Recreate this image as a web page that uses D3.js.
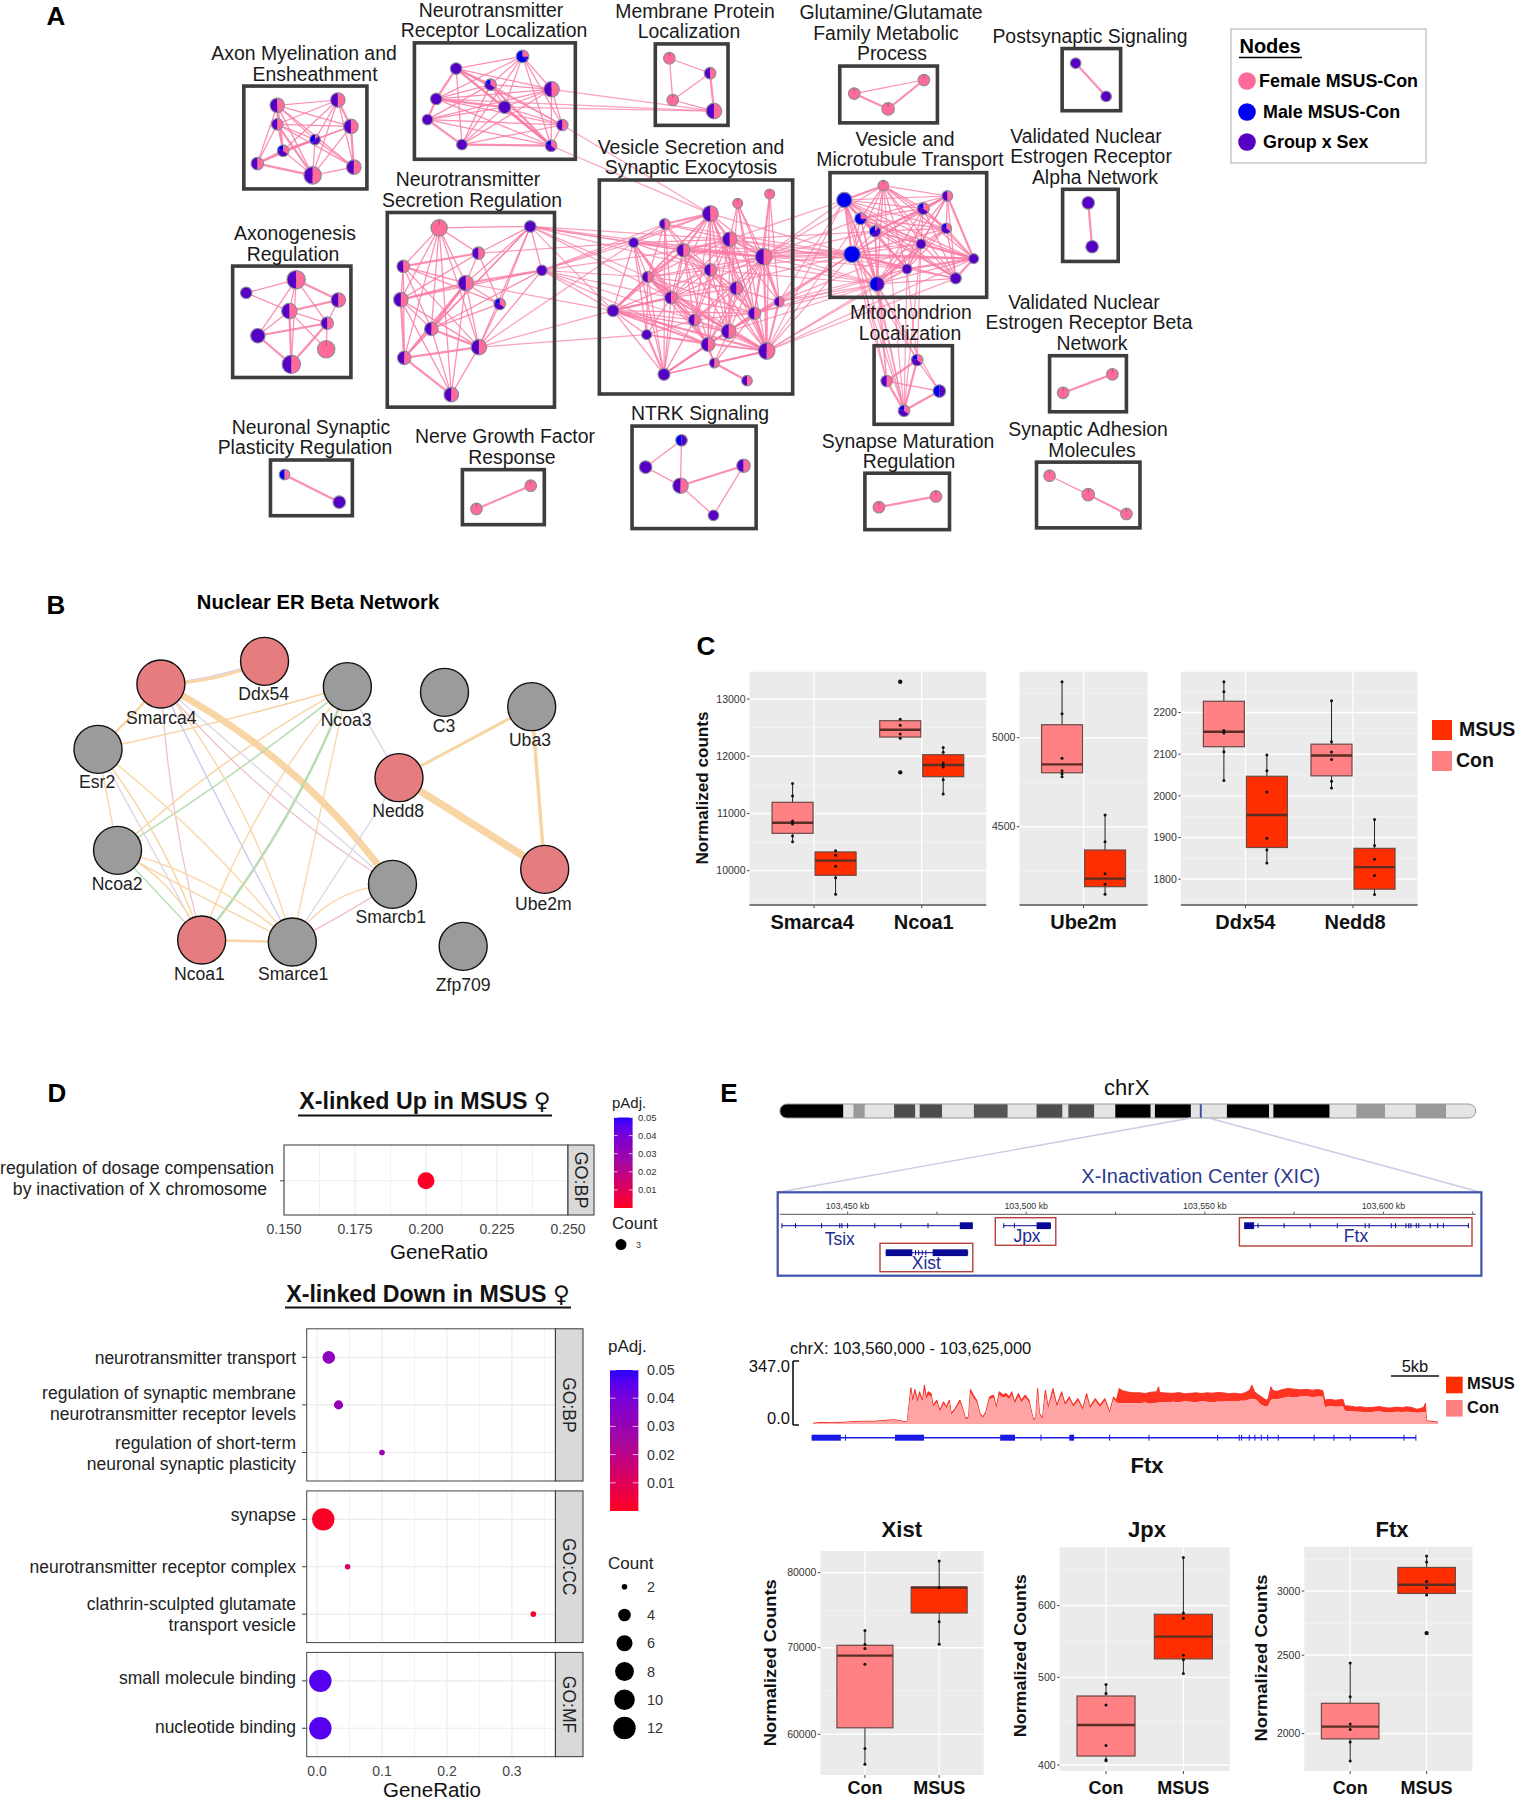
<!DOCTYPE html>
<html><head><meta charset="utf-8">
<script src="https://cdn.jsdelivr.net/npm/d3@7"></script>
<style>html,body{margin:0;background:#fff}svg{display:block}text{font-family:"Liberation Sans",Arial,sans-serif}</style>
</head><body><div id="c"></div>
<script>
// ---------- Panel A data: network embeddings as [x, y, radius, kind] ----------
const kindShares={h:[.5,.5,0],p:[1,0,0],u:[0,1,0],b:[0,0,1],v:[0,.5,.5],w:[.5,0,.5],q:[.25,.1,.65],t:[.12,.5,.38],m:[.35,.45,.2]};
const axonNodes=[[572,295,15,'h'],[697,280,15,'h'],[572,348,12,'h'],[724,354,15,'h'],[650,391,11,'t'],[584,422,12,'m'],[531,458,13,'h'],[645,491,18,'h'],[730,468,15,'h']];
const axonEdges="0:1,2,3,4,5*,6,7,8;1:2,3*,4,5,7,8;2:3,4,5,6,7*,8;3:4,5,7,8*;4:5*,6,7,8;5:6*,7;6:7*;7:8";
const ntrNodes=[[1078,158,13,'q'],[941,192,12,'u'],[1012,237,12,'m'],[1138,250,16,'h'],[900,277,12,'u'],[1041,300,13,'u'],[882,335,11,'u'],[1160,350,12,'h'],[953,405,11,'u'],[1137,408,12,'m']];
const ntrEdges="0:1,2,3,4,5,7,8,9;1:2*,3,4*,5,7,8,9*;2:3,4,5,6,7,8,9*;3:4,5,6,7,8,9;4:5*,6*,7,9;5:6,7,8,9*;6:7,8*,9;7:8,9;8:9*";
const mpNodes=[[1381,163,12,'p'],[1465,205,12,'h'],[1388,280,12,'p'],[1473,311,16,'h']];
const mpEdges="0:1,2;1:2,3*;2:3";
const axgNodes=[[611,783,19,'h'],[508,820,12,'u'],[698,840,15,'h'],[597,871,16,'h'],[675,905,13,'h'],[532,940,15,'u'],[673,978,18,'p'],[601,1020,19,'h']];
const axgEdges="0:1,2*,3,4,5,7;1:3;2:3*,4;3:4,5,6,7*;4:5*,6,7*;5:7*";
const nsrNodes=[[906,638,17,'p'],[1094,634,12,'u'],[987,709,13,'h'],[832,746,13,'h'],[1118,757,11,'u'],[961,793,16,'h'],[827,839,15,'h'],[1031,851,12,'m'],[890,921,14,'h'],[988,972,16,'h'],[834,1002,14,'h'],[931,1105,15,'h']];
const nsrEdges="0:1,2,3,5,6,8,9,10,11;1:2,4,5,7,8,9,10;2:3*,5,6,7;3:5,6,7,8,9,10;4:5*,6,8,9;5:6*,7,8*,9,10*,11;6:8,9,10*,11;7:8,9;8:9*,10,11;9:10*,11;10:11*";
const vsNodes=[[539,72,15,'p'],[443,100,15,'p'],[361,131,24,'h'],[224,162,16,'h'],[131,218,15,'u'],[419,208,22,'h'],[280,241,20,'h'],[521,260,25,'h'],[361,300,19,'h'],[173,321,17,'h'],[439,355,20,'h'],[243,383,19,'h'],[567,395,15,'h'],[69,422,18,'u'],[493,430,19,'h'],[313,450,18,'h'],[416,484,22,'h'],[170,494,15,'u'],[354,523,21,'h'],[530,543,25,'h'],[373,579,15,'h'],[222,613,18,'u'],[471,632,16,'h']];
const vsEdges="0:7,12,14,19;1:5,7,12,14,16,19;2:3*,4,5*,6*,7,8,9,10,11,13,14,15,16,18,19;3:4,5,6,8,9,11,21;4:5,6,7,8,9,11,13,15,17,18,21;5:6*,7*,8,9,10,11,12,14,15,16,18,19;6:7*,8,9*,10,11,13,14,15,16,18,19,21;7:8,9,10,11,12*,14,15,16,18,19*;8:9,10,11,13,14,15,16,18,19;9:10,11*,13*,14,15,16*,17,18,19,21;10:11,12,14,15,16,18,19;11:13*,14,15,16,17,18,19,21;12:14,16,19*;13:15,16,17,18*,19*,21,14;14:15,16,18,19*,20,21;15:16,17,18,19,20,21;16:18*,19*,20,21;17:18,19,21*;18:19,20,21*;19:20*,21;20:21,22*";
const vtNodes=[[310,47,16,'p'],[193,90,23,'b'],[502,78,16,'h'],[430,116,18,'m'],[242,146,18,'q'],[499,175,16,'m'],[285,184,17,'t'],[423,222,15,'u'],[216,253,25,'b'],[581,266,15,'u'],[381,297,15,'u'],[527,325,17,'u'],[291,342,22,'v']];
const vtEdges="0:1*,2,3,4,5,6,7,8,9,10,11,12;1:2,3,4*,5,6,7,8*,9,10,11,12*;2:3*,4,5,6,7,8,9*,10,11,12;3:4,5,6*,7,8,9,10,11,12;4:5,6,7,8,9,10,11,12;5:6,7,8,9,10,11,12;6:7,8,9,10,11,12;7:8,9*,10,11,12*;8:9*,10*,11,12*;9:10*,11*,12;10:11,12;11:12";
const mitoNodes=[[325,1008,12,'m'],[262,1067,12,'h'],[371,1095,13,'v'],[298,1150,12,'m']];
const mitoEdges="0:1*,2,3*;1:2,3*;2:3*";
const nspNodes=[[587,1329,11,'w'],[700,1406,13,'u']];
const ngfNodes=[[983,1425,12,'p'],[1095,1360,12,'p']];
const ntrkNodes=[[1406,1233,12,'v'],[1332,1308,13,'u'],[1534,1304,14,'h'],[1404,1360,16,'h'],[1472,1443,11,'u']];
const ntrkEdges="0:1,3;1:3;2:3*,4;3:4";
const gluNodes=[[195,262,12,'p'],[339,224,12,'p'],[265,305,13,'p']];
const gluEdges="0:1,2*;1:2*";
const psNodes=[[653,177,11,'u'],[716,270,11,'u']];
const alphaNodes=[[679,568,13,'u'],[687,691,13,'u']];
const betaNodes=[[627,1100,12,'p'],[729,1048,12,'p']];
const smrNodes=[[246,1420,12,'p'],[364,1390,12,'p']];
const adhNodes=[[599,1332,12,'p'],[679,1385,13,'p'],[758,1439,12,'p']];
const adhEdges="0:1;1:2*";
const pairEdge="0:1*";
const interLinks="NTR3-MP3 NTR4-MP3 NTR5-MP3 NTR9-VS2 NTR7-VS2 NSR1-VS4 NSR1-VS13 NSR1-VS9 NSR1-VS6 NSR1-VS5 NSR1-VS8 NSR1-VS7 NSR1-VS11 NSR4-VS4 NSR4-VS13 NSR4-VS9 NSR4-VS11 NSR4-VS6 NSR4-VS2 NSR4-VS3 NSR4-VS15 NSR4-VS18 NSR9-VS13 NSR9-VS17 NSR9-VS4 NSR5-VS13 NSR2-VS4 VS7-VT1 VS7-VT8 VS7-VT12 VS7-VT7 VS7-VT10 VS7-VT9 VS7-VT0 VS7-VT4 VS7-VT6 VS5-VT8 VS5-VT1 VS5-VT12 VS5-VT6 VS5-VT10 VS2-VT8 VS6-VT8 VS6-VT12 VS12-VT1 VS12-VT8 VS12-VT12 VS12-VT10 VS12-VT7 VS19-VT1 VS19-VT8 VS19-VT12 VS19-VT10 VS19-VT11 VS19-VT9 VS19-VT4 VS14-VT8 VS14-VT12 VS14-VT10 VS16-VT12 VS16-VT8 VS13-VT8 VS8-VT8 VS8-VT12 VS4-VT8 VS3-VT8 VT8-M0 VT8-M1 VT8-M3 VT12-M0 VT12-M1 VT12-M3 VT12-M2 VT1-M1 VT1-M3 VT7-M0 VT7-M3 VT10-M0 VT10-M3 VT0-M3 VT4-M3 VT6-M1";
const legendA=[["Female MSUS-Con","#FF6A98"],["Male MSUS-Con","#0000F0"],["Group x Sex","#5500C4"]];

// ---------- Panel B data ----------
const geneNames=["Smarca4","Ddx54","Ncoa3","C3","Uba3","Esr2","Nedd8","Ncoa2","Smarcb1","Ube2m","Ncoa1","Smarce1","Zfp709"];
const geneX=[371,610,801,1025,1226,226,920,271,905,1256,465,674,1068];
const geneY=[372,304,380,397,440,568,653,871,973,928,1140,1146,1159];
const geneHit=[1,1,0,0,0,0,1,0,0,1,1,0,0];
const geneLabelX=[372,608,798,1024,1222,224,918,270,901,1253,460,676,1068];
const geneLabelY=[474,403,481,497,540,667,753,971,1072,1031,1243,1243,1276];
const geneEdges=[["Smarca4","Ddx54","l",1.5,.06],["Smarca4","Ddx54","o",3,.1],["Smarca4","Smarcb1","o",7,-.12],["Smarca4","Esr2","o",2.5,-.02],["Ncoa3","Esr2","o",1.5,-.02],["Ncoa3","Ncoa2","o",1.5,.06],["Ncoa3","Ncoa2","g",1.5,-.03],["Ncoa3","Ncoa1","g",2.5,-.08],["Ncoa3","Ncoa1","o",1.3,.09],["Ncoa3","Smarce1","o",1.3,0],["Ncoa3","Nedd8","l",1.3,0],["Smarca4","Ncoa1","r",1.3,.05],["Smarca4","Smarce1","b",1.3,.01],["Smarca4","Smarce1","o",1.3,-.1],["Smarca4","Smarcb1","l",1.3,0],["Smarca4","Smarcb1","r",1.3,.08],["Esr2","Ncoa2","o",1.3,0],["Esr2","Ncoa1","l",1.3,0],["Esr2","Ncoa1","o",1.5,-.08],["Esr2","Smarce1","o",1.3,-.06],["Ncoa2","Ncoa1","o",1.3,-.18],["Ncoa2","Ncoa1","g",1.3,0],["Ncoa2","Smarce1","o",1.3,.02],["Ncoa2","Smarce1","o",1.3,-.12],["Ncoa1","Smarce1","o",2.5,0],["Smarce1","Smarcb1","o",1.3,-.25],["Smarce1","Smarcb1","r",1.3,.02],["Smarce1","Nedd8","l",1.3,0],["Nedd8","Uba3","o",3,0],["Nedd8","Ube2m","o",7.5,0],["Uba3","Ube2m","o",3.5,0]];
const edgeHue={o:"#F8D5A4",l:"#DCD3E8",b:"#C6CAEA",g:"#B6DCB0",r:"#EFC2C9"};

// ---------- Panel C data: [low whisker, q1, median, q3, high whisker] ----------
const cSmarca4Con=[10507,10653,10839,11195,11526], cSmarca4ConPts=[11525,11305,10868,10839,10816,10606,10507];
const cSmarca4Msus=[9587,9919,10175,10327,10350], cSmarca4MsusPts=[10350,10268,10076,9878,9587];
const cNcoa1Con=[12313,12336,12464,12621,12645], cNcoa1ConPts=[12645,12540,12388,12313], cNcoa1ConOut=[13303,11719];
const cNcoa1Msus=[11340,11643,11847,12027,12155], cNcoa1MsusPts=[12155,12068,11882,11847,11812,11590,11340];
const cUbeCon=[4781,4803,4850,5073,5315], cUbeConPts=[5315,5135,4884,4815,4798,4781];
const cUbeMsus=[4120,4163,4208,4369,4566], cUbeMsusPts=[4566,4416,4236,4176,4120];
const cDdxCon=[2037,2118,2154,2227,2274], cDdxConPts=[2274,2250,2157,2151,2106,2037];
const cDdxMsus=[1839,1876,1954,2047,2098], cDdxMsusPts=[2098,2060,2009,1898,1870,1839];
const cNeddCon=[2019,2048,2097,2124,2228], cNeddConPts=[2228,2130,2105,2087,2035,2019];
const cNeddMsus=[1763,1776,1829,1874,1943], cNeddMsusPts=[1943,1881,1848,1809,1763];
const cTicks1=[10000,11000,12000,13000], cTicks2=[4500,5000], cTicks3=[1800,1900,2000,2100,2200];

// ---------- Panel D data ----------
const upRatio=[0.2], upP=[0.002], upCount=[3];
const upRatioTicks=[0.15,0.175,0.2,0.225,0.25];
const downFacets=["GO:BP","GO:CC","GO:MF"];
const downTerms=[["neurotransmitter transport"],["regulation of synaptic membrane","neurotransmitter receptor levels"],["regulation of short-term","neuronal synaptic plasticity"],["synapse"],["neurotransmitter receptor complex"],["clathrin-sculpted glutamate","transport vesicle"],["small molecule binding"],["nucleotide binding"]];
const downFacetOf=[0,0,0,1,1,1,2,2];
const downRatio=[0.018,0.033,0.1,0.0095,0.047,0.333,0.005,0.005];
const downP=[0.034,0.032,0.03,0.002,0.014,0.003,0.046,0.046];
const downCount=[4,3,2,12,2,2,12,12];
const downRatioTicks=[0,0.1,0.2,0.3];
const pTicks=[0.01,0.02,0.03,0.04,0.05];
const countTicks=[2,4,6,8,10,12];

// ---------- Panel E data ----------
const chrEdges=[153,275,294,316,372,413,421,464,525,590,645,695,706,756,796,864,872,941,958,962,1010,1091,1099,1207,1258,1313,1372,1430,1487];
const chrShade=["#000","#E4E4E4","#999","#E4E4E4","#4D4D4D","#E4E4E4","#4D4D4D","#E4E4E4","#555","#E4E4E4","#4D4D4D","#E4E4E4","#4D4D4D","#E4E4E4","#000","#E4E4E4","#000","#E4E4E4","#3C4CA8","#E4E4E4","#000","#E4E4E4","#000","#E4E4E4","#999","#E4E4E4","#999","#E4E4E4"];
const xicTicks=[0,25,50,75,100,125,150,175];
const xicLabels=[[0,"103,450 kb"],[50,"103,500 kb"],[100,"103,550 kb"],[150,"103,600 kb"]];
const tsixSpan=[-18.4,35.05], tsixExons=[[31.4,35.05]], tsixMarks=[-18.4,-14.6,-7.3,-2.2,-1.6,0,7.6,14.9,22.5];
const xistSpan=[10.66,33.6], xistExons=[[10.66,18.1],[23.8,33.6]], xistMarks=[19,19.9,20.9,21.9,33.6];
const jpxSpan=[43.7,56.8], jpxExons=[[52.9,56.8]], jpxMarks=[43.7,46.7,56.8];
const ftxSpan=[111,173.8], ftxExons=[[111,113.8]], ftxMarks=[114.9,122.2,129.5,137.1,144.9,146,152.2,153.4,156.3,157.1,157.7,159.2,159.9,163.1,165.2,166.8,173.8];
const covKb=[0,.73,2.1,3.5,4.9,6.3,8.4,9.1,9.8,10,10.2,10.4,10.6,10.9,11.1,11.4,11.6,11.8,12,12.3,12.5,12.9,13.2,13.6,13.9,14.2,14.4,14.8,15.3,15.6,15.9,16.2,16.4,16.7,17.05,17.4,17.7,18,18.4,18.8,19.1,19.4,19.8,20.1,20.45,20.7,21,21.4,21.7,22.1,22.5,22.8,23,23.2,23.4,23.6,23.9,24.2,24.5,25,25.4,25.9,26.25,26.7,27.1,27.6,28.1,28.5,28.85,29.4,29.9,30.4,30.9,31.3,31.6,31.9,32.2,
 32.8,33.4,34.06,34.6,35.2,35.8,36,36.1,36.7,37.5,38.1,38.7,39.3,39.9,40.5,41,41.6,42.2,42.7,43.3,44,44.5,45,45.5,45.7,46,46.2,46.7,47.2,47.4,47.7,47.9,48.3,48.9,49.5,50.2,50.8,51.4,52,52.6,53.1,53.3,53.8,54.4,55.2,55.4,56,56.6,57,57.7,58.4,59,59.6,60.1,60.8,61.4,61.8,62.4,62.9,63.3,63.6,63.8,63.9,65.1];
const covMsus=[4,9,7,11,15,15,24,18,11,105,200,132,191,132,178,132,215,150,178,169,105,132,77,123,95,132,59,86,132,86,31,40,191,160,132,59,40,68,150,160,95,178,160,169,150,178,123,169,132,160,132,59,22,40,196,59,31,187,95,196,105,178,114,150,105,141,86,169,95,141,105,141,68,150,132,196,184,
 176,172,172,168,175,178,205,174,171,169,173,167,169,172,168,172,170,174,172,167,170,165,172,187,215,178,169,150,132,136,205,184,180,190,196,192,188,191,186,190,184,132,136,131,136,101,98,93,95,90,92,96,90,88,93,90,95,91,81,86,92,114,18,11];
const covCon=[2,6,4,8,12,12,20,15,8,92,178,118,170,118,160,120,185,136,158,152,92,118,66,110,84,118,50,76,118,76,24,32,170,144,118,50,32,58,136,144,84,160,144,152,136,160,110,152,118,144,118,50,16,32,172,50,24,165,84,172,92,160,102,136,92,126,76,150,84,126,92,126,58,136,118,114,114,
 114,114,114,119,112,117,117,120,118,123,120,125,123,120,125,123,120,124,123,126,124,128,128,136,136,136,132,105,95,99,132,136,136,142,150,146,152,154,148,152,150,92,99,95,97,73,70,67,68,64,68,70,64,64,68,66,68,66,62,64,66,66,15,7];
const ftxTrackExons=[[-0.14,2.9],[8.54,11.56],[19.5,21.04],[26.7,27.2]];
const ftxTrackMarks=[3.4,23.75,30.9,35,42.15,44.4,44.65,45.45,46.04,46.7,47.36,48.47,52.2,54.27,55.97,61.56,62.8];

// ---------- Panel E box plots ----------
const xistCon=[56880,60700,69020,70300,72160], xistConPts=[72160,70400,69900,67960,58500,56880];
const xistMsus=[70420,74460,77900,77980,81680], xistMsusPts=[81680,77900,73320,70420];
const jpxCon=[404.5,409.3,442.9,476.8,491], jpxConPts=[491,480,466,420.5,405.5,404.5];
const jpxMsus=[504.7,524,554.5,587,678], jpxMsusPts=[678,589,581,529,523,505];
const ftxCon=[1850,1970,2040,2180,2445], ftxConPts=[2445,2221,2055,2024,1953,1850];
const ftxMsus=[2963,2980,3055,3209,3314], ftxMsusPts=[3314,3258,3084,3029,2966], ftxMsusOut=[2662];
const groupNames=["Con","MSUS"];

// ================= drawing =================
const svg=d3.select("#c").append("svg").attr("width",1518).attr("height",1800).attr("viewBox","0 0 1518 1800");
function T(p,s,x,y,o={}){const t=p.append("text").attr("x",x).attr("y",y).attr("dy",".35em").text(s)
 .attr("font-size",o.size||14).attr("font-weight",o.weight||"normal").attr("text-anchor",o.anchor||"middle").attr("fill",o.fill||"#111");
 if(o.font)t.style("font-family",o.font); if(o.rotate!==undefined)t.attr("transform",`rotate(${o.rotate} ${x} ${y})`);
 if(o.len)t.attr("textLength",o.len).attr("lengthAdjust","spacingAndGlyphs"); return t;}
const MSUS="#FF2E00",CON="#FF8183";
[["A",56,16],["B",56,605],["C",706,646],["D",57,1093],["E",729,1093]].forEach(d=>T(svg,d[0],d[1],d[2],{size:26,weight:"bold",fill:"#000"}));

// ---- Panel A ----
const yA=d3.scaleLinear().domain([0,1568]).range([0,560]);
const vA=d3.scaleLinear().domain([0,720]).range([170,410]);
const frames={
 a:{x:d3.scaleLinear().domain([0,1568]).range([0,760]),y:yA,k:760/1568},
 b:{x:d3.scaleLinear().domain([0,1568]).range([760,1518]),y:yA,k:758/1568},
 s:{x:d3.scaleLinear().domain([0,660]).range([590,810]),y:vA,k:1/3},
 t:{x:d3.scaleLinear().domain([0,660]).range([780,1000]),y:vA,k:1/3}};
const clusters=[
 {id:"AX",f:"a",nodes:axonNodes,edges:axonEdges,box:[503,241,757,529]},
 {id:"NTR",f:"a",nodes:ntrNodes,edges:ntrEdges,box:[855,120,1187,446]},
 {id:"MP",f:"a",nodes:mpNodes,edges:mpEdges,box:[1352,123,1502,351]},
 {id:"AXG",f:"a",nodes:axgNodes,edges:axgEdges,box:[480,745,724,1057]},
 {id:"NSR",f:"a",nodes:nsrNodes,edges:nsrEdges,box:[799,595,1144,1140]},
 {id:"VS",f:"s",nodes:vsNodes,edges:vsEdges,box:[28,30,608,672]},
 {id:"VT",f:"t",nodes:vtNodes,edges:vtEdges,box:[150,8,620,382]},
 {id:"M",f:"b",nodes:mitoNodes,edges:mitoEdges,box:[236,968,398,1188]},
 {id:"NSP",f:"a",nodes:nspNodes,edges:pairEdge,box:[558,1288,727,1444]},
 {id:"NGF",f:"a",nodes:ngfNodes,edges:pairEdge,box:[954,1315,1123,1469]},
 {id:"NTRK",f:"a",nodes:ntrkNodes,edges:ntrkEdges,box:[1304,1193,1560,1480]},
 {id:"GLU",f:"b",nodes:gluNodes,edges:gluEdges,box:[165,185,367,344]},
 {id:"PS",f:"b",nodes:psNodes,edges:pairEdge,box:[625,136,746,310]},
 {id:"ALPHA",f:"b",nodes:alphaNodes,edges:pairEdge,box:[626,530,741,732]},
 {id:"BETA",f:"b",nodes:betaNodes,edges:pairEdge,box:[599,996,758,1153]},
 {id:"SMR",f:"b",nodes:smrNodes,edges:pairEdge,box:[217,1325,392,1483]},
 {id:"ADH",f:"b",nodes:adhNodes,edges:adhEdges,box:[572,1294,786,1478]}];
const pos=(c,i)=>{const f=frames[c.f],n=c.nodes[i];return{x:f.x(n[0]),y:f.y(n[1]),r:n[2]*f.k,kind:n[3]};};
const byId=Object.fromEntries(clusters.map(c=>[c.id,c]));
const edgeRows=[];
clusters.forEach(c=>c.edges.split(";").forEach(row=>{const [a,bs]=row.split(":");bs.split(",").forEach(b=>{
  edgeRows.push({s:pos(c,+a),t:pos(c,parseInt(b)),thick:b.endsWith("*")});});}));
interLinks.split(" ").forEach(l=>{const [p,q]=l.split("-").map(k=>k.match(/([A-Z]+)(\d+)/));
  edgeRows.push({s:pos(byId[p[1]],+p[2]),t:pos(byId[q[1]],+q[2]),thick:false,inter:true});});
const gA=svg.append("g");
gA.selectAll("line.e").data(edgeRows).join("line").attr("x1",d=>d.s.x).attr("y1",d=>d.s.y).attr("x2",d=>d.t.x).attr("y2",d=>d.t.y)
 .attr("stroke","#FA7AA3").attr("stroke-width",d=>d.thick?2.2:1.25).attr("stroke-opacity",d=>d.inter?.7:.85);
clusters.forEach(c=>{const f=frames[c.f],b=c.box;
 gA.append("rect").attr("x",f.x(b[0])).attr("y",f.y(b[1])).attr("width",f.x(b[2])-f.x(b[0])).attr("height",f.y(b[3])-f.y(b[1]))
  .attr("fill","none").attr("stroke","#3D3D3D").attr("stroke-width",3.6);});
const pie=d3.pie().sort(null).value(d=>d), hue=["#FF6A98","#5500C4","#0000F0"];
clusters.forEach(c=>c.nodes.forEach((_,i)=>{const n=pos(c,i);const g=gA.append("g").attr("transform",`translate(${n.x},${n.y})`);
 const arc=d3.arc().innerRadius(0).outerRadius(n.r);
 g.selectAll("path").data(pie(kindShares[n.kind])).join("path").attr("d",arc).attr("fill",(d,j)=>hue[j]);
 if(n.kind==="p")g.append("line").attr("y1",-n.r).attr("y2",-n.r*.35).attr("stroke","#8a4a66").attr("stroke-width",.7);
 g.append("circle").attr("r",n.r).attr("fill","none").attr("stroke","#8C8C9C").attr("stroke-width",1.1);}));
const titleRows=[["Neurotransmitter",491,10],["Receptor Localization",494,30],["Membrane Protein",695,11],["Localization",689,31],["Axon Myelination and",304,53],["Ensheathment",315,74],["Vesicle Secretion and",691,147],["Synaptic Exocytosis",691,167],["Neurotransmitter",468,179],["Secretion Regulation",472,200],["Axonogenesis",295,233],["Regulation",293,254],["Neuronal Synaptic",311,427],["Plasticity Regulation",305,447],["Nerve Growth Factor",505,436],["Response",512,457],["NTRK Signaling",700,413],["Glutamine/Glutamate",891,12.5],["Family Metabolic",886,33],["Process",892,53.5],["Postsynaptic Signaling",1090,36],["Vesicle and",905,139],["Microtubule Transport",910,159],["Validated Nuclear",1086,136],["Estrogen Receptor",1091,156],["Alpha Network",1095,177],["Mitochondrion",911,312.5],["Localization",910,333],["Validated Nuclear",1084,302],["Estrogen Receptor Beta",1089,322.5],["Network",1092,343.5],["Synapse Maturation",908,441],["Regulation",909,461],["Synaptic Adhesion",1088,429],["Molecules",1092,450]];
titleRows.forEach(r=>T(svg,r[0],r[1],r[2],{size:19.4,fill:"#1a1a1a"}));
svg.append("rect").attr("x",1231).attr("y",29).attr("width",195).attr("height",134).attr("fill","#fff").attr("stroke","#C8C8C8").attr("stroke-width",1.5);
T(svg,"Nodes",1270,46,{size:20,weight:"bold",fill:"#000"});
svg.append("line").attr("x1",1239).attr("x2",1302).attr("y1",57.5).attr("y2",57.5).attr("stroke","#000").attr("stroke-width",1.6);
legendA.forEach((d,i)=>{const y=[81,112,142][i];
 svg.append("circle").attr("cx",1247).attr("cy",y).attr("r",8.8).attr("fill",d[1]);
 T(svg,d[0],[1259,1263,1263][i],y,{size:17.9,weight:"bold",anchor:"start",fill:"#000"});});

// ---- Panel B ----
const bX=d3.scaleLinear().domain([0,1568]).range([0,680]), bY=d3.scaleLinear().domain([0,1380]).range([560,1020]);
T(svg,"Nuclear ER Beta Network",318,602,{size:20.2,weight:"bold",fill:"#000"});
const gi=Object.fromEntries(geneNames.map((g,i)=>[g,i]));
const gB=svg.append("g");
geneEdges.forEach(e=>{const a=gi[e[0]],b=gi[e[1]],x1=bX(geneX[a]),y1=bY(geneY[a]),x2=bX(geneX[b]),y2=bY(geneY[b]);
 const mx=(x1+x2)/2,my=(y1+y2)/2,dx=x2-x1,dy=y2-y1,c=e[4];
 gB.append("path").attr("d",`M${x1},${y1}Q${mx-dy*c},${my+dx*c} ${x2},${y2}`).attr("fill","none").attr("stroke",edgeHue[e[2]]).attr("stroke-width",e[3]);});
geneNames.forEach((g,i)=>{gB.append("circle").attr("cx",bX(geneX[i])).attr("cy",bY(geneY[i])).attr("r",24).attr("fill",geneHit[i]?"#E57C80":"#9B9B9B").attr("stroke","#111").attr("stroke-width",1.4);
 T(gB,g,bX(geneLabelX[i]),bY(geneLabelY[i]),{size:17.6,fill:"#222"});});

// ---- Box plot helper ----
function boxPanel(o){const g=svg.append("g"),[x0,x1]=o.x,[y0,y1]=o.y;
 g.append("rect").attr("x",x0).attr("y",y0).attr("width",x1-x0).attr("height",y1-y0).attr("fill","#EBEBEB");
 const px=o.ticks.map(o.yScale).sort((a,b)=>a-b),mids=d3.pairs(px).map(p=>(p[0]+p[1])/2);
 const st=px.length>1?px[1]-px[0]:0;
 if(o.log){mids.unshift(px[0]-(px[1]-px[0])*.5);mids.push(px[px.length-1]+(px[px.length-1]-px[px.length-2])*.5);}
 else{mids.unshift(px[0]-st/2);mids.push(px[px.length-1]+st/2);}
 mids.filter(m=>m>y0&&m<y1).forEach(m=>g.append("line").attr("x1",x0).attr("x2",x1).attr("y1",m).attr("y2",m).attr("stroke","#F5F5F5").attr("stroke-width",.8));
 o.ticks.forEach(t=>{const y=o.yScale(t);
  g.append("line").attr("x1",x0).attr("x2",x1).attr("y1",y).attr("y2",y).attr("stroke","#fff").attr("stroke-width",1.4);
  g.append("line").attr("x1",x0-2.5).attr("x2",x0).attr("y1",y).attr("y2",y).attr("stroke","#444").attr("stroke-width",1);
  T(g,t,x0-4,y,{size:o.tickSize||10.5,anchor:"end",fill:"#333"});});
 o.groups.forEach(c=>{const cx=o.xScale(c.name);
  g.append("line").attr("x1",cx).attr("x2",cx).attr("y1",y0).attr("y2",y1).attr("stroke","#fff").attr("stroke-width",1.2);
  g.append("line").attr("x1",cx).attr("x2",cx).attr("y1",y1).attr("y2",y1+3).attr("stroke","#444").attr("stroke-width",1);
  T(g,c.name,cx+(c.dx||0),o.labelY,{size:o.labelSize,weight:"bold",fill:"#111"});
  c.boxes.forEach(b=>{const x=cx+b.off*o.unit,w=o.boxW,s=b.stats,Y=o.yScale;
   g.append("line").attr("x1",x).attr("x2",x).attr("y1",Y(s[0])).attr("y2",Y(s[4])).attr("stroke","#222").attr("stroke-width",1);
   g.append("rect").attr("x",x-w/2).attr("width",w).attr("y",Y(s[3])).attr("height",Y(s[1])-Y(s[3])).attr("fill",b.fill).attr("stroke","#6A4A44").attr("stroke-width",1.2);
   g.append("line").attr("x1",x-w/2).attr("x2",x+w/2).attr("y1",Y(s[2])).attr("y2",Y(s[2])).attr("stroke","#5A2E24").attr("stroke-width",2.4);
   g.selectAll(null).data(b.pts).join("circle").attr("cx",x).attr("cy",Y).attr("r",1.5).attr("fill","#111");
   g.selectAll(null).data(b.out||[]).join("circle").attr("cx",x).attr("cy",Y).attr("r",2.2).attr("fill","#111");});});
 if(o.axisLine)g.append("line").attr("x1",x0).attr("x2",x1).attr("y1",y1).attr("y2",y1).attr("stroke","#555").attr("stroke-width",1.4);
}
const pt=(x,cats)=>d3.scalePoint().domain(cats).range(x).padding(.6);
const cP=[{x:[749.5,986.3],dom:[9400,13478],ticks:cTicks1,groups:[
  {name:"Smarca4",dx:-2,boxes:[{off:-.2,stats:cSmarca4Con,pts:cSmarca4ConPts,fill:CON},{off:.2,stats:cSmarca4Msus,pts:cSmarca4MsusPts,fill:MSUS}]},
  {name:"Ncoa1",dx:2,boxes:[{off:-.2,stats:cNcoa1Con,pts:cNcoa1ConPts,out:cNcoa1ConOut,fill:CON},{off:.2,stats:cNcoa1Msus,pts:cNcoa1MsusPts,fill:MSUS}]}]},
 {x:[1019.4,1147.7],dom:[4060,5371],ticks:cTicks2,groups:[
  {name:"Ube2m",boxes:[{off:-.2,stats:cUbeCon,pts:cUbeConPts,fill:CON},{off:.2,stats:cUbeMsus,pts:cUbeMsusPts,fill:MSUS}]}]},
 {x:[1180.8,1417.6],dom:[1738,2298],ticks:cTicks3,groups:[
  {name:"Ddx54",boxes:[{off:-.2,stats:cDdxCon,pts:cDdxConPts,fill:CON},{off:.2,stats:cDdxMsus,pts:cDdxMsusPts,fill:MSUS}]},
  {name:"Nedd8",dx:2,boxes:[{off:-.2,stats:cNeddCon,pts:cNeddConPts,fill:CON},{off:.2,stats:cNeddMsus,pts:cNeddMsusPts,fill:MSUS}]}]}];
cP.forEach(p=>boxPanel({x:p.x,y:[671.7,905],yScale:d3.scaleLinear().domain(p.dom).range([905,671.7]),ticks:p.ticks,groups:p.groups,
 xScale:pt(p.x,p.groups.map(g=>g.name)),unit:107.5,boxW:41,labelY:921.5,labelSize:20,axisLine:true}));
T(svg,"Normalized counts",702,788,{size:16,weight:"bold",rotate:-90,len:153,fill:"#111"});
[["MSUS",720,MSUS,1459],["Con",751,CON,1456]].forEach(d=>{svg.append("rect").attr("x",1432).attr("y",d[1]).attr("width",20).attr("height",20).attr("fill",d[2]);
 T(svg,d[0],d[3],d[1]+9.5,{size:19.5,weight:"bold",anchor:"start",fill:"#111"});});

// ---- Panel D ----
const pScale=d3.scaleLinear().domain([0.001,0.0255,0.05]).range(["#FF0020","#A508A0","#2A00FF"]).interpolate(d3.interpolateLab);
const defs=svg.append("defs");
const grad=defs.append("linearGradient").attr("id","pgrad").attr("x1",0).attr("x2",0).attr("y1",1).attr("y2",0);
d3.range(0,1.01,.1).forEach(t=>grad.append("stop").attr("offset",t).attr("stop-color",pScale(0.001+t*0.049)));
const venus=(p,s,x,y)=>{const t=T(p,s+" ",x,y,{size:23.2,weight:"bold",fill:"#111"});t.append("tspan").text("♀").style("font-family","DejaVu Sans").attr("font-weight","normal").attr("font-size",23);};
venus(svg,"X-linked Up in MSUS",425,1101);
svg.append("line").attr("x1",298).attr("x2",552).attr("y1",1115.6).attr("y2",1115.6).attr("stroke","#111").attr("stroke-width",2);
venus(svg,"X-linked Down in MSUS",428,1293.5);
svg.append("line").attr("x1",285).attr("x2",571).attr("y1",1307.4).attr("y2",1307.4).attr("stroke","#111").attr("stroke-width",2);
function strip(x,w,y,h,s,size){svg.append("rect").attr("x",x).attr("y",y).attr("width",w).attr("height",h).attr("fill","#D9D9D9").attr("stroke","#333").attr("stroke-width",1);
 T(svg,s,x+w/2,y+h/2,{size,rotate:90,fill:"#222"});}
// up panel
const ux=d3.scaleLinear().domain([0.15,0.25]).range([284,568]), uy=1180.8;
const gU=svg.append("g");
gU.append("rect").attr("x",284).attr("y",1145).attr("width",284).attr("height",70).attr("fill","#fff");
d3.pairs(upRatioTicks).forEach(p=>{const x=ux((p[0]+p[1])/2);gU.append("line").attr("x1",x).attr("x2",x).attr("y1",1145).attr("y2",1215).attr("stroke","#F2F2F2");});
upRatioTicks.forEach(t=>{gU.append("line").attr("x1",ux(t)).attr("x2",ux(t)).attr("y1",1145).attr("y2",1215).attr("stroke","#EBEBEB").attr("stroke-width",1.1);
 T(gU,d3.format(".3f")(t),ux(t),1229,{size:14,fill:"#444"});});
gU.append("line").attr("x1",284).attr("x2",568).attr("y1",uy).attr("y2",uy).attr("stroke","#EBEBEB").attr("stroke-width",1.1);
gU.append("line").attr("x1",280).attr("x2",284).attr("y1",uy).attr("y2",uy).attr("stroke","#444");
gU.append("rect").attr("x",284).attr("y",1145).attr("width",284).attr("height",70).attr("fill","none").attr("stroke","#333");
gU.selectAll("circle").data(upRatio).join("circle").attr("cx",ux).attr("cy",uy).attr("r",8.5).attr("fill",(d,i)=>pScale(upP[i]));
strip(568,26,1145,70,"GO:BP",18);
T(svg,"regulation of dosage compensation",137,1168,{size:17.6,fill:"#222"});
T(svg,"by inactivation of X chromosome",140,1189,{size:17.6,fill:"#222"});
T(svg,"GeneRatio",439,1251.6,{size:20.5,fill:"#111"});
function pLegend(x,y0,w,h,labelX,size,titleY){svg.append("rect").attr("x",x).attr("y",y0).attr("width",w).attr("height",h).attr("fill","url(#pgrad)");
 const s=d3.scaleLinear().domain([0.05,0.01]).range([y0,y0+h*0.8]);
 pTicks.forEach(t=>{svg.append("line").attr("x1",x).attr("x2",x+w*.2).attr("y1",s(t)).attr("y2",s(t)).attr("stroke","#fff").attr("stroke-opacity",.7);
  svg.append("line").attr("x1",x+w*.8).attr("x2",x+w).attr("y1",s(t)).attr("y2",s(t)).attr("stroke","#fff").attr("stroke-opacity",.7);
  T(svg,d3.format(".2f")(t),labelX,s(t),{size,anchor:"start",fill:"#333"});});
 T(svg,"pAdj.",x-2,titleY,{size:size<12?15:17,anchor:"start",fill:"#222"});}
pLegend(614,1117.5,18.6,90.5,638,9.5,1102.6);
T(svg,"Count",612,1223,{size:17,anchor:"start",fill:"#222"});
svg.append("circle").attr("cx",621).attr("cy",1244.6).attr("r",5.5).attr("fill","#000");
T(svg,upCount[0],636,1245,{size:9,anchor:"start",fill:"#333"});
// down panels
const dx=d3.scaleLinear().domain([-0.016,0.367]).range([306.7,555.4]);
const rSize=d3.scaleLinear().domain(countTicks).range([2.8,6.3,8,9.4,10.3,11.2]);
const facetRows=[[1328.8,1481],[1490.9,1642.6],[1652.4,1756.7]];
const labelRows=[[1357.7],[1393,1414],[1442.4,1463.4],[1514.6],[1567],[1603.5,1624.5],[1678],[1726.4]];
const gD=svg.append("g");
downFacets.forEach((f,fi)=>{const [a,b]=facetRows[fi],idx=d3.range(8).filter(i=>downFacetOf[i]===fi);
 const ys=d3.scalePoint().domain(idx).range([a,b]).padding(.6);
 d3.pairs(downRatioTicks).concat([[0.3,0.4],[-0.1,0]]).forEach(p=>{const v=(p[0]+p[1])/2;if(v<-0.016||v>0.367)return;
   gD.append("line").attr("x1",dx(v)).attr("x2",dx(v)).attr("y1",a).attr("y2",b).attr("stroke","#F2F2F2");});
 downRatioTicks.forEach(t=>gD.append("line").attr("x1",dx(t)).attr("x2",dx(t)).attr("y1",a).attr("y2",b).attr("stroke","#EBEBEB").attr("stroke-width",1.1));
 idx.forEach(i=>{gD.append("line").attr("x1",306.7).attr("x2",555.4).attr("y1",ys(i)).attr("y2",ys(i)).attr("stroke","#EBEBEB").attr("stroke-width",1.1);
  gD.append("line").attr("x1",302).attr("x2",306.7).attr("y1",ys(i)).attr("y2",ys(i)).attr("stroke","#444");
  downTerms[i].forEach((s,k)=>T(gD,s,296,labelRows[i][k],{size:17.5,anchor:"end",fill:"#222"}));});
 gD.append("rect").attr("x",306.7).attr("y",a).attr("width",248.7).attr("height",b-a).attr("fill","none").attr("stroke","#444");
 idx.forEach(i=>gD.append("circle").attr("cx",dx(downRatio[i])).attr("cy",ys(i)).attr("r",rSize(downCount[i])).attr("fill",pScale(downP[i])));
 strip(555.4,27.6,a,b-a,f,17.5);});
downRatioTicks.forEach(t=>T(svg,t.toFixed(1),dx(t),1770.6,{size:14,fill:"#444"}));
T(svg,"GeneRatio",432,1790,{size:20.5,fill:"#111"});
pLegend(610,1370,28.4,141,647,14.2,1346);
T(svg,"Count",608,1563,{size:17,anchor:"start",fill:"#222"});
const legY=d3.scalePoint().domain(countTicks).range([1586.8,1728]);
countTicks.forEach(c=>{svg.append("circle").attr("cx",624.5).attr("cy",legY(c)).attr("r",rSize(c)).attr("fill","#000");
 T(svg,c,647,legY(c),{size:14.5,anchor:"start",fill:"#333"});});

// ---- Panel E ----
const ex=d3.scaleLinear().domain([0,1568]).range([700,1518]), ey=d3.scaleLinear().domain([0,1260]).range([1070,1490]);
T(svg,"chrX",ex(818),1087,{size:22,fill:"#111"});
defs.append("clipPath").attr("id","chr").append("rect").attr("x",ex(153)).attr("y",1104).attr("width",ex(1487)-ex(153)).attr("height",14).attr("rx",7);
const gC=svg.append("g").attr("clip-path","url(#chr)");
d3.pairs(chrEdges).forEach((p,i)=>gC.append("rect").attr("x",ex(p[0])).attr("width",ex(p[1])-ex(p[0])).attr("y",1104).attr("height",14).attr("fill",chrShade[i]));
svg.append("rect").attr("x",ex(153)).attr("y",1104).attr("width",ex(1487)-ex(153)).attr("height",14).attr("rx",7).attr("fill","none").attr("stroke","#999");
[[941,150],[975,1497]].forEach(p=>svg.append("line").attr("x1",ex(p[0])).attr("y1",1118).attr("x2",ex(p[1])).attr("y2",1192.3).attr("stroke","#C9CBE5").attr("stroke-width",1.4));
T(svg,"X-Inactivation Center (XIC)",1200.8,1176,{size:20,fill:"#2E3A8C"});
svg.append("rect").attr("x",777.7).attr("y",1192.3).attr("width",703.7).attr("height",83.4).attr("fill","#fff").attr("stroke","#3F51A8").attr("stroke-width",2.2);
const kb=d3.scaleLinear().domain([0,150]).range([ex(283),ex(1310)]);
svg.append("line").attr("x1",ex(153)).attr("x2",ex(1487)).attr("y1",1214.3).attr("y2",1214.3).attr("stroke","#777").attr("stroke-width",1.2);
xicTicks.forEach(t=>svg.append("line").attr("x1",kb(t)).attr("x2",kb(t)).attr("y1",1211.5).attr("y2",1214.3).attr("stroke","#666"));
xicLabels.forEach(d=>T(svg,d[1],kb(d[0]),1205.7,{size:8.8,fill:"#333"}));
const NAVY="#0A0A96";
function gene(span,exons,marks,y,x,col,h){const g=svg.append("g");
 g.append("line").attr("x1",x(span[0])).attr("x2",x(span[1])).attr("y1",y).attr("y2",y).attr("stroke",col).attr("stroke-width",h.w);
 exons.forEach(e=>g.append("rect").attr("x",x(e[0])).attr("width",x(e[1])-x(e[0])).attr("y",y-h.e).attr("height",h.e*2).attr("fill",col));
 marks.forEach(m=>g.append("line").attr("x1",x(m)).attr("x2",x(m)).attr("y1",y-h.m).attr("y2",y+h.m).attr("stroke",col).attr("stroke-width",1));}
const xh={w:1,e:3.4,m:2.5};
gene(tsixSpan,tsixExons,tsixMarks,1225.7,kb,NAVY,xh);gene(xistSpan,xistExons,xistMarks,1252.7,kb,NAVY,xh);
gene(jpxSpan,jpxExons,jpxMarks,1225.7,kb,NAVY,xh);gene(ftxSpan,ftxExons,ftxMarks,1225.7,kb,NAVY,xh);
[["Tsix",839.8,1239.3],["Xist",926.4,1263.3],["Jpx",1027,1235.7],["Ftx",1356,1235.7]].forEach(d=>T(svg,d[0],d[1],d[2],{size:17.5,fill:"#1D2C90"}));
[[880,1243.3,972.8,1271.7],[995.3,1217.7,1055.8,1245.3],[1239.4,1217.7,1472,1246]].forEach(r=>svg.append("rect").attr("x",r[0]).attr("y",r[1]).attr("width",r[2]-r[0]).attr("height",r[3]-r[1]).attr("fill","none").attr("stroke","#B5403E").attr("stroke-width",1.4));
// coverage track
const cx=d3.scaleLinear().domain([0,65]).range([813,1437]), cy=d3.scaleLinear().domain([0,347]).range([1424,1361]);
T(svg,"chrX: 103,560,000 - 103,625,000",790,1348,{size:16.5,anchor:"start",fill:"#111"});
svg.append("path").attr("d",d3.area().x((d,i)=>cx(covKb[i])).y0((d,i)=>cy(covCon[i])).y1(d=>cy(d))(covMsus)).attr("fill","#FF3322");
svg.append("path").attr("d",d3.line().x((d,i)=>cx(covKb[i])).y(d=>cy(d))(covMsus)).attr("fill","none").attr("stroke","#EE3128").attr("stroke-width",.9);
svg.append("path").attr("d",d3.area().x((d,i)=>cx(covKb[i])).y0(cy(0)).y1(d=>cy(d))(covCon)).attr("fill","#FFA4A4");
svg.append("path").attr("d","M793,1361V1425M793,1361h6M793,1425h6").attr("fill","none").attr("stroke","#111").attr("stroke-width",1.6);
T(svg,"347.0",790,1366.7,{size:16.5,anchor:"end",fill:"#111"});
T(svg,"0.0",790,1418,{size:16.5,anchor:"end",fill:"#111"});
svg.append("line").attr("x1",1391).attr("x2",1439).attr("y1",1376).attr("y2",1376).attr("stroke","#111").attr("stroke-width",1.6);
T(svg,"5kb",1415,1366,{size:16.5,fill:"#111"});
[["MSUS",1376.7,MSUS,1383],["Con",1400,CON,1407]].forEach(d=>{svg.append("rect").attr("x",1446).attr("y",d[1]).attr("width",16.7).attr("height",16.6).attr("fill",d[2]);
 T(svg,d[0],1467,d[3],{size:16.5,weight:"bold",anchor:"start",fill:"#111"});});
gene([-0.14,62.8],ftxTrackExons,ftxTrackMarks,1437.7,cx,"#1A1AE6",{w:1.5,e:3,m:3});
T(svg,"Ftx",1147,1465,{size:22,weight:"bold",fill:"#111"});
// bottom box plots
const lP=[{t:"Xist",tx:901.8,x:[820.4,983.7],y:[1551,1775],dom:[55810,83145],ticks:[60000,70000,80000],bw:56,ylab:[769.8,1662.7,167],con:[xistCon,xistConPts],ms:[xistMsus,xistMsusPts]},
 {t:"Jpx",tx:1147,x:[1059.6,1229.8],y:[1547.3,1771],dom:[394,696],ticks:[400,500,600],bw:58,ylab:[1020.4,1655.7,163],con:[jpxCon,jpxConPts],ms:[jpxMsus,jpxMsusPts]},
 {t:"Ftx",tx:1392,x:[1304.3,1472.5],y:[1546.7,1771],dom:[1798,3404],ticks:[2000,2500,3000],bw:57.5,ylab:[1261,1658,167],con:[ftxCon,ftxConPts],ms:[ftxMsus,ftxMsusPts,ftxMsusOut]}];
lP.forEach(p=>{T(svg,p.t,p.tx,1529,{size:22,weight:"bold",fill:"#111"});
 boxPanel({x:p.x,y:p.y,yScale:d3.scaleLog().domain(p.dom).range([p.y[1],p.y[0]]),log:true,ticks:p.ticks,unit:0,boxW:p.bw,labelY:1788,labelSize:18,
  xScale:pt(p.x,groupNames),groups:[{name:"Con",boxes:[{off:0,stats:p.con[0],pts:p.con[1],fill:CON}]},{name:"MSUS",boxes:[{off:0,stats:p.ms[0],pts:p.ms[1],out:p.ms[2],fill:MSUS}]}]});
 T(svg,"Normalized Counts",p.ylab[0],p.ylab[1],{size:17,weight:"bold",rotate:-90,len:p.ylab[2],fill:"#111"});});
</script></body></html>
